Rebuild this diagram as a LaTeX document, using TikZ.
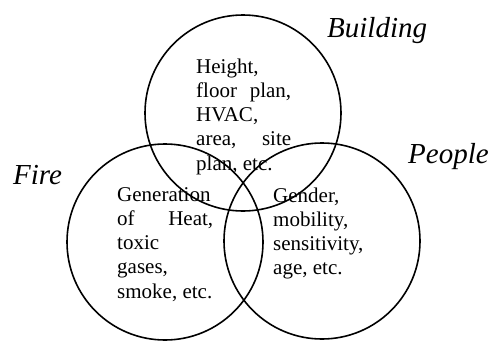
\documentclass[tikz,border=0pt]{standalone}
\usepackage{fontspec}
\setmainfont{Liberation Serif}
\newcommand{\toplines}[2]{\parbox[t]{#1}{\raggedright #2}}
\begin{document}
\begin{tikzpicture}[x=1pt,y=-1pt,
  ring/.style={draw=black,line width=1.6pt,circle,minimum size=196pt,inner sep=0pt},
  body/.style={inner sep=0pt,anchor=base west,font=\fontsize{21}{24.3}\selectfont},
  title/.style={inner sep=0pt,anchor=base west,font=\fontsize{29}{34}\selectfont\itshape}]
\useasboundingbox (0,0) rectangle (491,341);
\node[ring] (build) at (243,113) {};
\node[ring] (fire) at (165,242) {};
\node[ring] (people) at (322,241) {};
\node[body] (btext) at (196,73) {\toplines{110pt}{Height,\\\makebox[95pt][s]{floor plan,}\\HVAC,\\\makebox[95pt][s]{area, site}\\plan, etc.}};
\node[body] (ftext) at (117,201) {\toplines{110pt}{Generation\\\makebox[96pt][s]{of Heat,}\\toxic\\gases,\\smoke, etc.}};
\node[body] (ptext) at (273,202) {\toplines{110pt}{Gender,\\mobility,\\sensitivity,\\age, etc.}};
\node[title] (blabel) at (327,37) {Building};
\node[title] (flabel) at (13,184) {Fire};
\node[title] (plabel) at (408,163) {People};
\end{tikzpicture}
\end{document}
